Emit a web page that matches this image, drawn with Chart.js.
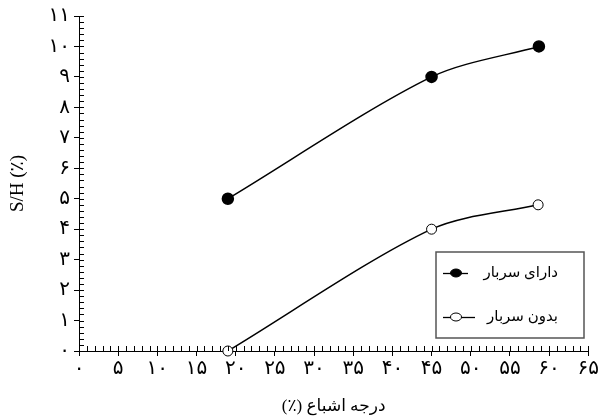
<html>
<head>
<meta charset="utf-8">
<script src="https://cdn.jsdelivr.net/npm/chart.js@4.4.0/dist/chart.umd.min.js"></script>
<style>
  body { margin: 0; background: white; }
  #chartBox { width: 600px; height: 419px; }
</style>
</head>
<body>
<div id="chartBox"><canvas id="satChart"></canvas></div>

<script>
  // data
  var withLoadX = [19, 45, 58.7];
  var withLoadY = [5, 9, 10];
  var noLoadX = [19, 45, 58.6];
  var noLoadY = [0, 4, 4.8];

  var withLoadName = "دارای سربار";
  var noLoadName = "بدون سربار";

  var xTickLabels = ["۰", "۵", "۱۰", "۱۵", "۲۰", "۲۵", "۳۰", "۳۵", "۴۰", "۴۵", "۵۰", "۵۵", "۶۰", "۶۵"];
  var yTickLabels = ["۰", "۱", "۲", "۳", "۴", "۵", "۶", "۷", "۸", "۹", "۱۰", "۱۱"];

  var serif = "'Liberation Serif', 'DejaVu Sans', serif";

  function toPoints(xs, ys) {
    return xs.map(function (x, i) { return { x: x, y: ys[i] }; });
  }

  // small inner ticks on both axes
  var minorTicks = {
    id: "minorTicks",
    afterDraw: function (chart) {
      var ctx = chart.ctx;
      var xs = chart.scales.x, ys = chart.scales.y;
      var a = chart.chartArea;
      ctx.save();
      ctx.strokeStyle = "black";
      ctx.lineWidth = 1;
      ctx.beginPath();
      for (var v = xs.min; v <= xs.max; v += 1) {
        var px = Math.round(xs.getPixelForValue(v)) + 0.5;
        ctx.moveTo(px, a.bottom);
        ctx.lineTo(px, a.bottom - 5);
      }
      for (var k = 0; k <= (ys.max - ys.min) * 5; k++) {
        var py = Math.round(ys.getPixelForValue(ys.min + k / 5)) + 0.5;
        ctx.moveTo(a.left, py);
        ctx.lineTo(a.left + 5, py);
      }
      ctx.stroke();
      ctx.restore();
    }
  };

  // boxed legend inside the plot, right to left
  var boxLegend = {
    id: "boxLegend",
    afterDraw: function (chart) {
      var ctx = chart.ctx;
      var left = 436, top = 252, w = 148, h = 86;
      ctx.save();
      ctx.strokeStyle = "#555";
      ctx.lineWidth = 1.5;
      ctx.strokeRect(left, top, w, h);
      ctx.font = "15px " + serif;
      ctx.direction = "rtl";
      ctx.textAlign = "right";
      ctx.textBaseline = "middle";
      var rows = [
        { text: withLoadName, y: top + 21, fill: "black", end: 32 },
        { text: noLoadName, y: top + 65, fill: "white", end: 39 }
      ];
      rows.forEach(function (r) {
        ctx.fillStyle = "black";
        ctx.fillText(r.text, left + 122, r.y);
        ctx.strokeStyle = "black";
        ctx.lineWidth = 1.3;
        ctx.beginPath();
        ctx.moveTo(left + 7, r.y + 0.5);
        ctx.lineTo(left + r.end, r.y + 0.5);
        ctx.stroke();
        ctx.beginPath();
        ctx.ellipse(left + 20, r.y, 5.5, 4, 0, 0, Math.PI * 2);
        ctx.fillStyle = r.fill;
        ctx.fill();
        ctx.lineWidth = 1;
        ctx.stroke();
      });
      ctx.restore();
    }
  };

  new Chart(document.getElementById("satChart"), {
    type: "line",
    data: {
      datasets: [
        {
          label: withLoadName,
          data: toPoints(withLoadX, withLoadY),
          borderColor: "black",
          borderWidth: 1.5,
          backgroundColor: "black",
          pointBackgroundColor: "black",
          pointBorderColor: "black",
          pointRadius: 5.5,
          tension: 0.3,
          clip: false
        },
        {
          label: noLoadName,
          data: toPoints(noLoadX, noLoadY),
          borderColor: "black",
          borderWidth: 1.5,
          backgroundColor: "white",
          pointBackgroundColor: "white",
          pointBorderColor: "black",
          pointBorderWidth: 1,
          pointRadius: 5,
          tension: 0.3,
          clip: false
        }
      ]
    },
    options: {
      responsive: true,
      maintainAspectRatio: false,
      animation: false,
      layout: { padding: { top: 15, right: 7, left: 0, bottom: 0 } },
      plugins: { legend: { display: false }, tooltip: { enabled: false } },
      scales: {
        x: {
          type: "linear",
          min: 0,
          max: 65,
          ticks: {
            stepSize: 5,
            color: "black",
            padding: 1,
            font: { family: serif, size: 20 },
            maxRotation: 0,
            callback: function (v, i) { return xTickLabels[i]; }
          },
          grid: { drawOnChartArea: false, tickLength: 5, color: "black" },
          border: { color: "black", width: 1 },
          title: {
            display: true,
            text: "درجه اشباع (٪)\u200F",
            color: "black",
            font: { family: serif, size: 17 },
            padding: { top: 2, bottom: 2 }
          },
          afterFit: function (s) { s.height = 68; }
        },
        y: {
          min: 0,
          max: 11,
          ticks: {
            stepSize: 1,
            color: "black",
            padding: 4,
            font: { family: serif, size: 20 },
            callback: function (v, i) { return yTickLabels[i]; }
          },
          grid: { drawOnChartArea: false, tickLength: 5, color: "black" },
          border: { color: "black", width: 1 },
          title: {
            display: true,
            text: "S/H (٪)",
            color: "black",
            font: { family: serif, size: 19 },
            padding: { top: 7, bottom: 4 }
          },
          afterFit: function (s) { s.width = 79; }
        }
      }
    },
    plugins: [minorTicks, boxLegend]
  });
</script>
</body>
</html>
